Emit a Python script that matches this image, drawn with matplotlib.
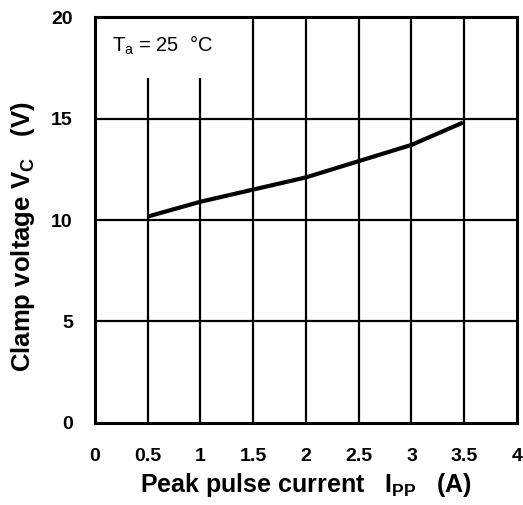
import matplotlib
matplotlib.use('Agg')
import matplotlib.pyplot as plt
from matplotlib.patches import Rectangle

# curve
current = [0.52, 1.0, 1.5, 2.0, 2.5, 3.0, 3.47]
clamp_v = [10.2, 10.9, 11.5, 12.1, 12.9, 13.7, 14.76]

x_ticks = [0, 0.5, 1, 1.5, 2, 2.5, 3, 3.5, 4]
x_tick_labels = ['0', '0.5', '1', '1.5', '2', '2.5', '3', '3.5', '4']
y_ticks = [0, 5, 10, 15, 20]

plt.rcParams['font.family'] = ['Liberation Sans', 'DejaVu Sans']

fig = plt.figure(figsize=(5.23, 5.05), dpi=100)
ax = fig.add_axes([0.1816, 0.1624, 0.8069, 0.8039])

ax.set_xlim(0, 4)
ax.set_ylim(0, 20)
ax.set_xticks(x_ticks)
ax.set_xticklabels(x_tick_labels)
ax.set_yticks(y_ticks)
ax.tick_params(axis='x', length=0, labelsize=14, pad=18)
ax.tick_params(axis='y', length=0, labelsize=14, pad=16)
for lbl in ax.get_xticklabels() + ax.get_yticklabels():
    lbl.set_fontweight('bold')

# grid: vertical every 0.5, horizontal at 5, 10, 15
for xv in x_ticks[1:-1]:
    ax.axvline(xv, color='black', lw=1.6, zorder=1)
for yv in y_ticks[1:-1]:
    ax.axhline(yv, color='black', lw=1.6, zorder=1)

# white box behind the temperature note
ax.add_patch(Rectangle((0, 17.0), 1.35, 3.0, facecolor='white', edgecolor='none', zorder=2))
ax.text(0.16, 18.6, r'T$_\mathregular{a}$ = 25  °C', fontsize=14.5, va='center', ha='left', zorder=3)

ax.plot(current, clamp_v, color='black', lw=3, zorder=4)

for s in ax.spines.values():
    s.set_linewidth(2.2)
    s.set_zorder(5)

ax.set_xlabel(r'Peak pulse current   I$_\mathregular{PP}$   (A)', fontsize=18, fontweight='bold', labelpad=4)
ax.set_ylabel(r'Clamp voltage V$_\mathregular{C}$   (V)', fontsize=18.5, fontweight='bold')
ax.yaxis.set_label_coords(-0.137, 0.458)

fig.savefig('out.png', dpi=100)
